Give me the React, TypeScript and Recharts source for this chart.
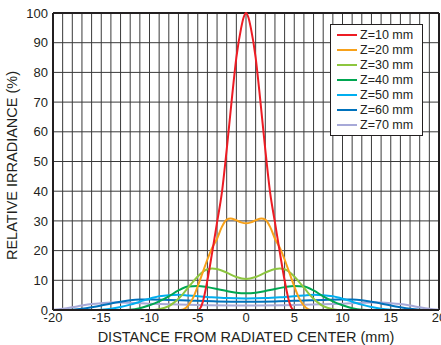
import { CartesianGrid, Line, LineChart, ReferenceLine, XAxis, YAxis } from 'recharts';

const FONT = '"Liberation Sans", Arial, Helvetica, sans-serif';
const TEXT_COLOR = '#231f20';
const GRID_COLOR = '#3a3a3a';

// distance from radiated center (mm) / relative irradiance (%) for each Z
const z10Dist = [-20, -6, -5, -4.75, -4.5, -4, -3.5, -3, -2.5, -2, -1.5, -1, -0.5, -0.25, 0, 0.25, 0.5, 1, 1.5, 2, 2.5, 3, 3.5, 4, 4.5, 4.75, 5, 6, 20];
const z10Irr = [0, 0, 0, 0.6, 2.5, 10, 19.5, 29.5, 39.5, 54, 70, 85, 95, 98.5, 100, 98.5, 95, 85, 70, 54, 39.5, 29.5, 19.5, 10, 2.5, 0.6, 0, 0, 0];

const z20Dist = [-20, -7, -6.5, -6, -5.5, -5, -4.5, -4, -3.5, -3, -2.5, -2, -1.6, -1, -0.5, 0, 0.5, 1, 1.6, 2, 2.5, 3, 3.5, 4, 4.5, 5, 5.5, 6, 6.5, 7, 20];
const z20Irr = [0, 0, 0.2, 1.5, 4, 8, 12.5, 17, 21, 24, 28, 30.4, 30.8, 30.2, 29.5, 29.2, 29.5, 30.2, 30.8, 30.4, 28, 24, 21, 17, 12.5, 8, 4, 1.5, 0.2, 0, 0];

const z30Dist = [-20, -10, -9, -8, -7.5, -7, -6.5, -6, -5.5, -5, -4.5, -4, -3.5, -3, -2, -1, 0, 1, 2, 3, 3.5, 4, 4.5, 5, 5.5, 6, 6.5, 7, 7.5, 8, 9, 10, 20];
const z30Irr = [0, 0, 0.3, 1.3, 2.4, 3.8, 5.5, 7.5, 9.5, 11.3, 12.8, 13.7, 14, 13.8, 12.6, 11.1, 10.4, 11.1, 12.6, 13.8, 14, 13.7, 12.8, 11.3, 9.5, 7.5, 5.5, 3.8, 2.4, 1.3, 0.3, 0, 0];

const z40Dist = [-20, -13, -12, -11, -10, -9, -8, -7, -6, -5, -4, -3, -2, -1, 0, 1, 2, 3, 4, 5, 6, 7, 8, 9, 10, 11, 12, 13, 20];
const z40Irr = [0, 0, 0.1, 0.6, 1.6, 2.9, 4.6, 6.6, 7.9, 8.1, 7.7, 7.1, 6.4, 5.8, 5.6, 5.8, 6.4, 7.1, 7.7, 8.1, 7.9, 6.6, 4.6, 2.9, 1.6, 0.6, 0.1, 0, 0];

const z50Dist = [-20, -16, -15, -14, -13, -12, -11, -10, -9, -8, -7, -6, -4, -2, 0, 2, 4, 6, 7, 8, 9, 10, 11, 12, 13, 14, 15, 16, 20];
const z50Irr = [0, 0, 0.1, 0.4, 1, 1.8, 2.8, 3.8, 4.6, 5, 5.1, 4.9, 4.4, 4, 3.9, 4, 4.4, 4.9, 5.1, 5, 4.6, 3.8, 2.8, 1.8, 1, 0.4, 0.1, 0, 0];

const z60Dist = [-20, -19, -18, -17, -16, -15, -14, -13, -12, -11, -10, -8, -6, -3, 0, 3, 6, 8, 10, 11, 12, 13, 14, 15, 16, 17, 18, 19, 20];
const z60Irr = [0, 0, 0.1, 0.4, 0.9, 1.5, 2.2, 2.8, 3.3, 3.5, 3.5, 3.4, 3.2, 2.9, 2.8, 2.9, 3.2, 3.4, 3.5, 3.5, 3.3, 2.8, 2.2, 1.5, 0.9, 0.4, 0.1, 0, 0];

const z70Dist = [-20, -19, -18, -17, -16, -15, -14, -13, -12, -10, -8, -4, 0, 4, 8, 10, 12, 13, 14, 15, 16, 17, 18, 19, 20];
const z70Irr = [0.1, 0.4, 0.9, 1.5, 2, 2.3, 2.5, 2.5, 2.4, 2.1, 1.9, 1.6, 1.5, 1.6, 1.9, 2.1, 2.4, 2.5, 2.5, 2.3, 2, 1.5, 0.9, 0.4, 0.1];

const xTicks = Array.from({ length: 41 }, (_, i) => i - 20);
const yTicks = [0, 10, 20, 30, 40, 50, 60, 70, 80, 90, 100];

function zip(xs: number[], ys: number[]) {
  return xs.map((x, i) => ({ x, y: ys[i] }));
}

const SERIES = [
  { name: 'Z=10 mm', color: '#ed1c24', data: zip(z10Dist, z10Irr) },
  { name: 'Z=20 mm', color: '#f7a11a', data: zip(z20Dist, z20Irr) },
  { name: 'Z=30 mm', color: '#8dc63f', data: zip(z30Dist, z30Irr) },
  { name: 'Z=40 mm', color: '#00a651', data: zip(z40Dist, z40Irr) },
  { name: 'Z=50 mm', color: '#00aeef', data: zip(z50Dist, z50Irr) },
  { name: 'Z=60 mm', color: '#0072bc', data: zip(z60Dist, z60Irr) },
  { name: 'Z=70 mm', color: '#a7a9d8', data: zip(z70Dist, z70Irr) },
];

function LegendBox() {
  return (
    <div
      style={{
        position: 'absolute',
        left: 330,
        top: 24,
        width: 85,
        background: '#fff',
        border: `1px solid ${TEXT_COLOR}`,
        padding: '2.5px 0 2.5px 6px',
        fontFamily: FONT,
        fontSize: 12.5,
        lineHeight: '15px',
        color: TEXT_COLOR,
      }}
    >
      {SERIES.map((s) => (
        <div key={s.name} style={{ display: 'flex', alignItems: 'center', height: 15 }}>
          <span style={{ display: 'inline-block', width: 20, height: 2, background: s.color, marginRight: 3 }} />
          <span>{s.name}</span>
        </div>
      ))}
    </div>
  );
}

export default function App() {
  const tick = { fill: TEXT_COLOR, fontSize: 13, fontFamily: FONT };
  return (
    <div style={{ position: 'absolute', left: 0, top: 0, width: 441, height: 345, background: '#fff' }}>
      <LineChart
        width={441}
        height={345}
        margin={{ top: 13, right: 2, left: 0, bottom: 0 }}
        style={{ fontFamily: FONT }}
      >
        <CartesianGrid stroke={GRID_COLOR} strokeWidth={1} />
        <XAxis
          type="number"
          dataKey="x"
          domain={[-20, 20]}
          ticks={xTicks}
          interval={0}
          tickFormatter={(v: number) => (v % 5 === 0 ? String(v) : '')}
          tickLine={false}
          tickSize={0}
          tickMargin={3}
          height={35}
          axisLine={{ stroke: TEXT_COLOR, strokeWidth: 2 }}
          tick={tick}
          allowDuplicatedCategory={false}
          label={{
            value: 'DISTANCE FROM RADIATED CENTER (mm)',
            position: 'insideBottom',
            offset: 3,
            style: { fill: TEXT_COLOR, fontSize: 14.5, fontFamily: FONT },
          }}
        />
        <YAxis
          type="number"
          domain={[0, 100]}
          ticks={yTicks}
          interval={0}
          width={53}
          tickLine={false}
          tickSize={0}
          tickMargin={5}
          axisLine={{ stroke: TEXT_COLOR, strokeWidth: 2 }}
          tick={tick}
          label={{
            value: 'RELATIVE IRRADIANCE (%)',
            angle: -90,
            position: 'insideLeft',
            offset: 12,
            dy: 4,
            style: { fill: TEXT_COLOR, fontSize: 14.5, fontFamily: FONT, textAnchor: 'middle' },
          }}
        />
        <ReferenceLine y={100} stroke={TEXT_COLOR} strokeWidth={2} />
        <ReferenceLine x={20} stroke={TEXT_COLOR} strokeWidth={2} />
        {[...SERIES].reverse().map((s) => (
          <Line
            key={s.name}
            data={s.data}
            dataKey="y"
            name={s.name}
            type="monotone"
            stroke={s.color}
            strokeWidth={2}
            dot={false}
            activeDot={false}
            isAnimationActive={false}
          />
        ))}
      </LineChart>
      <LegendBox />
    </div>
  );
}
